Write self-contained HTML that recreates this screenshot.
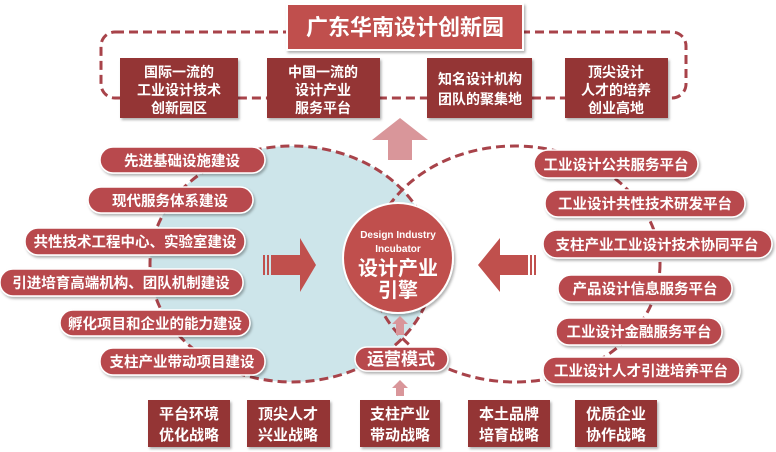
<!DOCTYPE html>
<html><head><meta charset="utf-8"><style>
html,body{margin:0;padding:0;background:#fff;}
svg{display:block;}
text{font-family:"Liberation Sans","Noto Sans CJK SC",sans-serif;font-weight:bold;fill:#fff;}
</style></head><body>
<svg width="776" height="452" viewBox="0 0 776 452" xmlns="http://www.w3.org/2000/svg">
<defs>
<filter id="sh" x="-10%" y="-20%" width="130%" height="150%"><feDropShadow dx="1.5" dy="2" stdDeviation="1.2" flood-color="#000" flood-opacity="0.3"/></filter>
</defs>
<ellipse cx="292" cy="264" rx="142" ry="118" fill="#cde5ea"/>
<ellipse cx="292" cy="264" rx="142" ry="118" fill="none" stroke="#a8434a" stroke-width="3" stroke-dasharray="9,5"/>
<ellipse cx="515" cy="264" rx="145" ry="118" fill="none" stroke="#a8434a" stroke-width="3" stroke-dasharray="9,5"/>
<rect x="101" y="32" width="585" height="66" rx="14" fill="none" stroke="#a8434a" stroke-width="3" stroke-dasharray="9,5"/>
<rect x="287" y="4" width="236" height="46" fill="#c0504d" stroke="#fff" stroke-width="2" filter="url(#sh)"/>
<text x="405" y="35" font-size="22" text-anchor="middle">广东华南设计创新园</text>
<g fill="#943634" filter="url(#sh)">
<rect x="120" y="58" width="118" height="60"/>
<rect x="267" y="58" width="113" height="60"/>
<rect x="427" y="58" width="105" height="60"/>
<rect x="565" y="58" width="103" height="60"/>
</g>
<g font-size="14" text-anchor="middle">
<text x="179" y="77">国际一流的</text><text x="179" y="95">工业设计技术</text><text x="179" y="113">创新园区</text>
<text x="323" y="77">中国一流的</text><text x="323" y="95">设计产业</text><text x="323" y="113">服务平台</text>
<text x="480" y="84">知名设计机构</text><text x="480" y="104">团队的聚集地</text>
<text x="616" y="77">顶尖设计</text><text x="616" y="95">人才的培养</text><text x="616" y="113">创业高地</text>
</g>
<polygon points="400,118 428,140 412,140 412,160 388,160 388,140 372,140" fill="#d9969a"/>
<g fill="#b84a4e" stroke="#fff" stroke-width="1.5" filter="url(#sh)">
<rect x="100" y="147" width="165" height="26" rx="13"/>
<rect x="88" y="187" width="165" height="26" rx="13"/>
<rect x="25" y="228" width="220" height="27" rx="13"/>
<rect x="0" y="269" width="243" height="27" rx="13"/>
<rect x="60" y="310" width="190" height="26" rx="13"/>
<rect x="100" y="348" width="165" height="27" rx="13"/>
<rect x="534" y="150" width="164" height="28" rx="14"/>
<rect x="545" y="190" width="200" height="27" rx="13"/>
<rect x="543" y="230" width="229" height="28" rx="14"/>
<rect x="558" y="275" width="174" height="27" rx="13"/>
<rect x="556" y="318" width="166" height="27" rx="13"/>
<rect x="543" y="357" width="197" height="27" rx="13"/>
<rect x="355" y="347" width="93" height="24" rx="12"/>
</g>
<g font-size="14.5" text-anchor="middle">
<text x="182" y="166">先进基础设施建设</text>
<text x="170" y="206">现代服务体系建设</text>
<text x="135" y="247">共性技术工程中心、实验室建设</text>
<text x="121" y="288">引进培育高端机构、团队机制建设</text>
<text x="155" y="329">孵化项目和企业的能力建设</text>
<text x="182" y="367">支柱产业带动项目建设</text>
<text x="616" y="170">工业设计公共服务平台</text>
<text x="645" y="209">工业设计共性技术研发平台</text>
<text x="657" y="250">支柱产业工业设计技术协同平台</text>
<text x="645" y="294">产品设计信息服务平台</text>
<text x="639" y="337">工业设计金融服务平台</text>
<text x="641" y="376">工业设计人才引进培养平台</text>
<text x="401" y="365" font-size="17">运营模式</text>
</g>
<g fill="#c0504d">
<rect x="263" y="255" width="2" height="20"/><rect x="267" y="255" width="2" height="20"/>
<polygon points="271,255 300,255 300,238 316,265 300,292 300,275 271,275"/>
<rect x="534" y="255" width="2" height="20"/><rect x="530" y="255" width="2" height="20"/>
<polygon points="528,255 500,255 500,238 478,265 500,292 500,275 528,275"/>
</g>
<circle cx="398" cy="258" r="55" fill="#c0504d" stroke="#fff" stroke-width="2" filter="url(#sh)"/>
<text x="398" y="238" font-size="10" text-anchor="middle" font-family="Liberation Mono,monospace">Design Industry</text>
<text x="398" y="252" font-size="10" text-anchor="middle" font-family="Liberation Mono,monospace">Incubator</text>
<text x="398" y="275" font-size="20" text-anchor="middle">设计产业</text>
<text x="398" y="297" font-size="20" text-anchor="middle">引擎</text>
<polygon points="400,316 408,324 404,324 404,335 396,335 396,324 392,324" fill="#d9969a"/>
<polygon points="400,380 408,388 404,388 404,396 396,396 396,388 392,388" fill="#d9969a"/>
<g fill="#943634" filter="url(#sh)">
<rect x="148" y="400" width="82" height="47"/>
<rect x="247" y="400" width="83" height="47"/>
<rect x="360" y="400" width="80" height="47"/>
<rect x="468" y="400" width="82" height="47"/>
<rect x="575" y="400" width="82" height="47"/>
</g>
<g font-size="15" text-anchor="middle">
<text x="189" y="419">平台环境</text><text x="189" y="440">优化战略</text>
<text x="288" y="419">顶尖人才</text><text x="288" y="440">兴业战略</text>
<text x="400" y="419">支柱产业</text><text x="400" y="440">带动战略</text>
<text x="509" y="419">本土品牌</text><text x="509" y="440">培育战略</text>
<text x="616" y="419">优质企业</text><text x="616" y="440">协作战略</text>
</g>
</svg>
</body></html>
